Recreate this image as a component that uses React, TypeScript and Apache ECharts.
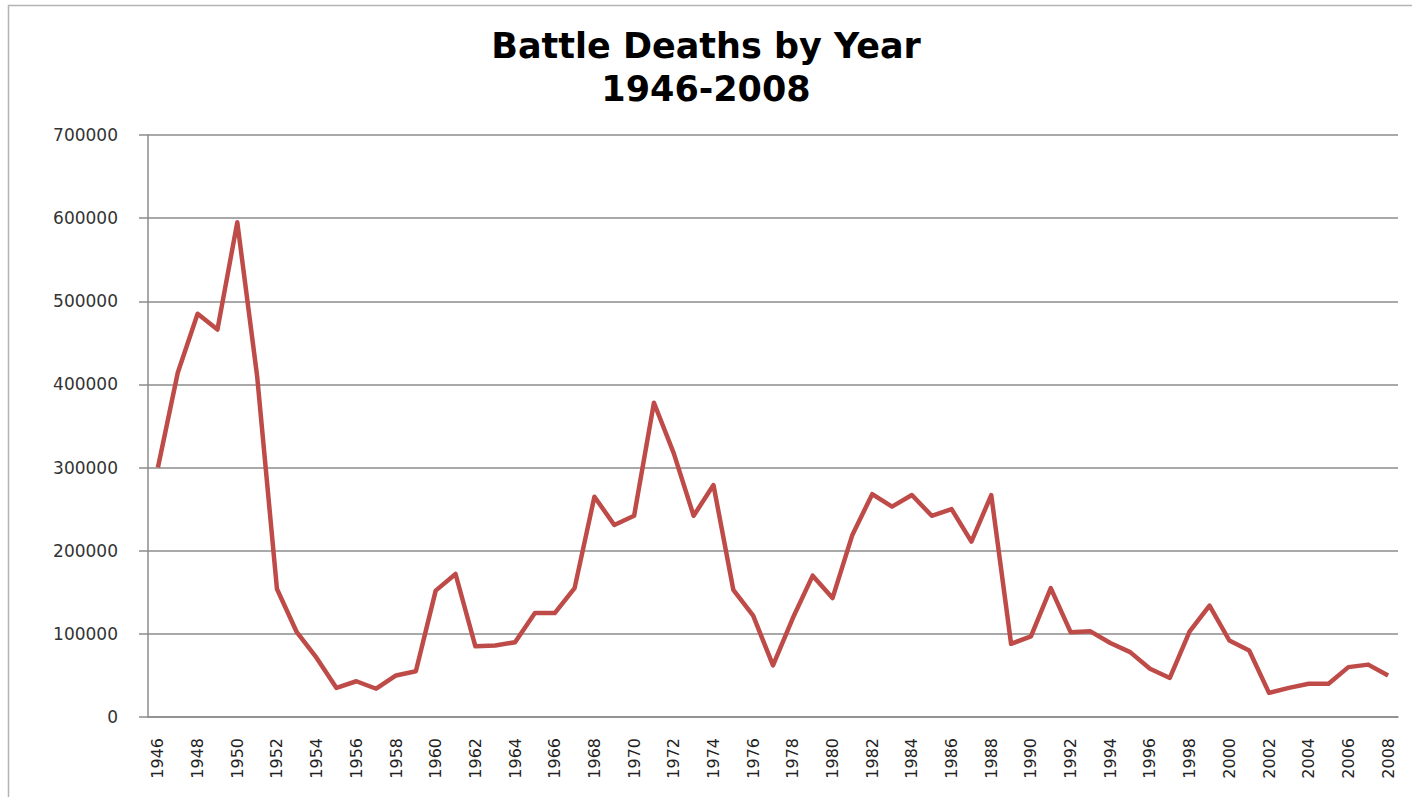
import React, { useEffect, useRef } from "react";
import * as echarts from "echarts";

const years: string[] = [];
for (let y = 1946; y <= 2008; y++) years.push(String(y));

const battleDeaths: number[] = [
  300000, 414000, 485000, 466000, 595000, 410000, 154000, 102000, 71000, 35000,
  43000, 34000, 50000, 55000, 152000, 172000, 85000, 86000, 90000, 125000,
  125000, 155000, 265000, 231000, 242000, 378000, 317000, 242000, 279000, 153000,
  122000, 62000, 119000, 170000, 143000, 219000, 268000, 253000, 267000, 242000,
  250000, 211000, 267000, 88000, 97000, 155000, 102000, 103000, 89000, 78000,
  58000, 47000, 103000, 134000, 92000, 80000, 29000, 35000, 40000, 40000,
  60000, 63000, 50000,
];

const titleText = "Battle Deaths by Year\n1946-2008";

export default function App() {
  const ref = useRef<HTMLDivElement>(null);
  useEffect(() => {
    if (!ref.current) return;
    const chart = echarts.init(ref.current, null, { renderer: "svg" });
    chart.setOption({
      animation: false,
      backgroundColor: "#ffffff",
      title: {
        text: titleText,
        left: "center",
        top: 19,
        textStyle: {
          fontFamily: "DejaVu Sans",
          fontWeight: "bold",
          fontSize: 35,
          lineHeight: 43,
          color: "#000000",
        },
      },
      graphic: [
        {
          type: "rect",
          shape: { x: 8.5, y: 5.5, width: 1420, height: 820 },
          style: { fill: "none", stroke: "#b4b4b4", lineWidth: 1.5 },
          silent: true,
        },
      ],
      grid: { left: 148, right: 14, top: 135, bottom: 80, containLabel: false },
      xAxis: {
        type: "category",
        data: years,
        boundaryGap: true,
        axisLine: { lineStyle: { color: "#8c8c8c", width: 1.5 } },
        axisTick: { interval: 0, length: 7, lineStyle: { color: "#8c8c8c", width: 1.5 } },
        axisLabel: {
          interval: 1,
          rotate: 90,
          margin: 21,
          fontFamily: "DejaVu Sans",
          fontSize: 16,
          color: "#222222",
        },
        splitLine: { show: false },
      },
      yAxis: {
        type: "value",
        min: 0,
        max: 700000,
        interval: 100000,
        axisLine: { show: true, lineStyle: { color: "#8c8c8c", width: 1.5 } },
        axisTick: { show: true, length: 9, lineStyle: { color: "#8c8c8c", width: 1.5 } },
        axisLabel: {
          margin: 30,
          fontFamily: "DejaVu Sans",
          fontSize: 17,
          color: "#333333",
          formatter: (v: number) => String(v),
        },
        splitLine: { lineStyle: { color: "#8c8c8c", width: 1.5 } },
      },
      series: [
        {
          type: "line",
          data: battleDeaths,
          symbol: "none",
          lineStyle: { color: "#be4b48", width: 4.5, join: "round" },
          itemStyle: { color: "#be4b48" },
        },
      ],
    });
    return () => chart.dispose();
  }, []);
  return (
    <div
      ref={ref}
      style={{ position: "absolute", left: 0, top: 0, width: 1412, height: 797 }}
    />
  );
}
